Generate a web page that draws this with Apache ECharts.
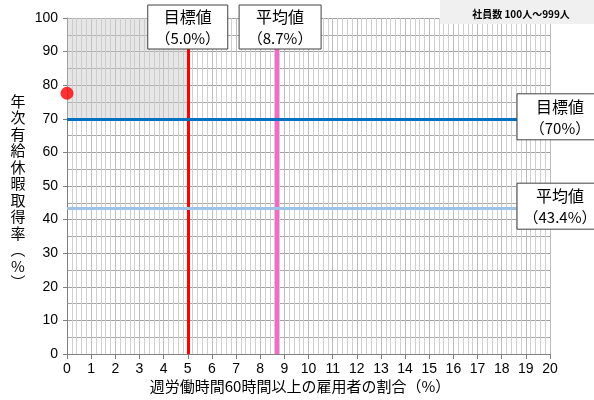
<!DOCTYPE html>
<html><head><meta charset="utf-8">
<script src="https://cdn.jsdelivr.net/npm/echarts@6/dist/echarts.min.js"></script>
<style>html,body{margin:0;padding:0;background:#fff}#c{width:594px;height:400px}</style>
</head><body><div id="c"></div>
<script>
const xTicks = [0,1,2,3,4,5,6,7,8,9,10,11,12,13,14,15,16,17,18,19,20];
const yTicks = [0,10,20,30,40,50,60,70,80,90,100];
const pointData = [[0, 77.6]];
const targetX = 5.0, averageX = 8.7;
const targetY = 70, averageY = 43.4;
const targetXLabel = ['目標値', '（5.0%）'];
const averageXLabel = ['平均値', '（8.7%）'];
const targetYLabel = ['目標値', '（70%）'];
const averageYLabel = ['平均値', '（43.4%）'];
const xName = '週労働時間60時間以上の雇用者の割合（%）';
const yNameChars = ['年','次','有','給','休','暇','取','得','率','︵','%','︶'];
const legendText = '社員数 100人～999人';

const FONT = '"Noto Sans CJK JP", sans-serif';
const chart = echarts.init(document.getElementById('c'));
const opt = {
  animation: false,
  grid: {left: 67, right: 44, top: 18, bottom: 46},
  xAxis: {
    type: 'value', min: xTicks[0], max: xTicks[xTicks.length-1], interval: 1,
    axisLine: {show: true, lineStyle: {color: '#808080', width: 1}},
    axisTick: {show: true, length: 5, lineStyle: {color: '#808080'}},
    axisLabel: {color: '#000', fontSize: 14, fontFamily: '"Liberation Sans", Arial, sans-serif', margin: 8},
    splitLine: {show: true, lineStyle: {color: '#bdbdbd', width: 1}},
    minorTick: {show: false, splitNumber: 5},
    minorSplitLine: {show: true, lineStyle: {color: '#cfcfcf', width: 1}}
  },
  yAxis: {
    type: 'value', min: yTicks[0], max: yTicks[yTicks.length-1], interval: 10,
    axisLine: {show: true, lineStyle: {color: '#808080', width: 1}},
    axisTick: {show: true, length: 4, lineStyle: {color: '#808080'}},
    axisLabel: {color: '#000', fontSize: 14, fontFamily: '"Liberation Sans", Arial, sans-serif', margin: 9},
    splitLine: {show: true, lineStyle: {color: '#a0a0a0', width: 1}},
    minorTick: {show: false, splitNumber: 2},
    minorSplitLine: {show: true, lineStyle: {color: '#a8a8a8', width: 1}}
  },
  series: [{
    type: 'scatter', data: pointData, symbolSize: 13,
    itemStyle: {color: '#ff0000'}, z: 10,
    markArea: {
      silent: true,
      itemStyle: {color: 'rgba(200,200,200,0.45)'},
      data: [[{xAxis: 0, yAxis: targetY}, {xAxis: targetX, yAxis: 100}]]
    },
    markLine: {
      silent: true, symbol: 'none', label: {show: false},
      data: [
        {xAxis: targetX, lineStyle: {color: '#ff0000', width: 3, type: 'solid'}},
        {xAxis: averageX, lineStyle: {color: '#ff66cc', width: 4, type: 'solid'}},
        {yAxis: targetY, lineStyle: {color: '#0070c0', width: 3, type: 'solid'}},
        {yAxis: averageY, lineStyle: {color: '#9dc3e6', width: 3, type: 'solid'}}
      ]
    }
  }]
};
chart.setOption(opt);

function box(cx, cy, w, h, lines) {
  return [
    {type: 'rect', z: 100, zlevel: 1, shape: {x: cx - w/2, y: cy - h/2, width: w, height: h},
     style: {fill: '#fff', stroke: '#404040', lineWidth: 1}},
    {type: 'text', z: 101, zlevel: 1, x: cx, y: cy - 10,
     style: {text: lines[0], font: '16px ' + FONT, fill: '#000', align: 'center', verticalAlign: 'middle'}},
    {type: 'text', z: 101, zlevel: 1, x: cx, y: cy + 11,
     style: {text: lines[1], font: '15px ' + FONT, fill: '#000', align: 'center', verticalAlign: 'middle'}}
  ];
}
const px5 = chart.convertToPixel({gridIndex: 0}, [targetX, 0])[0];
const px87 = chart.convertToPixel({gridIndex: 0}, [averageX, 0])[0];
const py70 = chart.convertToPixel({gridIndex: 0}, [0, targetY])[1];
const py434 = chart.convertToPixel({gridIndex: 0}, [0, averageY])[1];

const graphics = [].concat(
  box(px5, 27, 80, 44, targetXLabel),
  box(px87 + 3, 27, 82, 44, averageXLabel),
  box(560, py70 - 2, 86, 46, targetYLabel),
  box(560, py434 - 2, 86, 46, averageYLabel),
  [
    {type: 'rect', z: 100, zlevel: 1, shape: {x: 440, y: 0, width: 154, height: 24}, style: {fill: '#f0f0f0'}},
    {type: 'text', z: 101, zlevel: 1, x: 521, y: 14,
     style: {text: legendText, font: 'bold 10px ' + FONT, fill: '#000', align: 'center', verticalAlign: 'middle'}},
    {type: 'text', x: 300, y: 386,
     style: {text: xName, font: '15px ' + FONT, fill: '#000', align: 'center', verticalAlign: 'middle'}},
    {type: 'text', x: 18, y: 192,
     style: {text: yNameChars.join('\n'), font: '15px ' + FONT, lineHeight: 16.5, fill: '#000', align: 'center', verticalAlign: 'middle'}}
  ]
);
chart.setOption({graphic: graphics});
</script></body></html>
